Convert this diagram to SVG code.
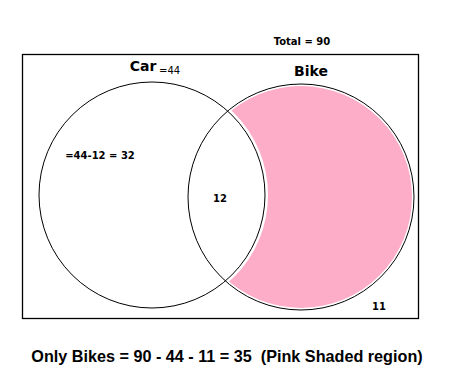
<svg xmlns="http://www.w3.org/2000/svg" width="465" height="373" viewBox="0 0 465 373">
<style>
.t{font-family:"DejaVu Sans","Liberation Sans",sans-serif;font-weight:bold;fill:#000}
.s{font-size:10px}
.l{font-size:14px}
.c{fill:none;stroke:#000;stroke-width:1}
.b{font-family:"Liberation Sans",Arial,sans-serif;font-weight:bold;font-size:16.2px;fill:#000}
</style>
<defs>
<mask id="m">
<rect x="0" y="0" width="465" height="373" fill="#fff"/>
<circle cx="152" cy="195" r="116" fill="#000"/>
</mask>
</defs>
<rect width="465" height="373" fill="#fff"/>
<g id="universe">
<rect x="22.5" y="54.5" width="396" height="264" fill="none" stroke="#000" stroke-width="1.3"/>
<text class="t s" x="302" y="45" text-anchor="middle">Total = 90</text>
<text class="t s" x="379" y="310" text-anchor="middle">11</text>
</g>
<g id="bike">
<circle cx="301" cy="197" r="111" fill="#FDADC8" mask="url(#m)"/>
<circle class="c" cx="301" cy="197" r="113"/>
<text class="t l" x="311" y="76" text-anchor="middle">Bike</text>
</g>
<g id="car">
<circle class="c" cx="152" cy="195" r="113"/>
<text class="t l" x="143" y="71" text-anchor="middle">Car</text>
<text class="t s" x="159" y="74" style="font-weight:normal">=44</text>
<text class="t s" x="100" y="159" text-anchor="middle">=44-12 = 32</text>
</g>
<g id="intersection">
<text class="t s" x="220" y="202" text-anchor="middle">12</text>
</g>
<g id="connectors"></g>
<text class="b" x="227" y="362" text-anchor="middle" xml:space="preserve">Only Bikes = 90 - 44 - 11 = 35  (Pink Shaded region)</text>
</svg>
